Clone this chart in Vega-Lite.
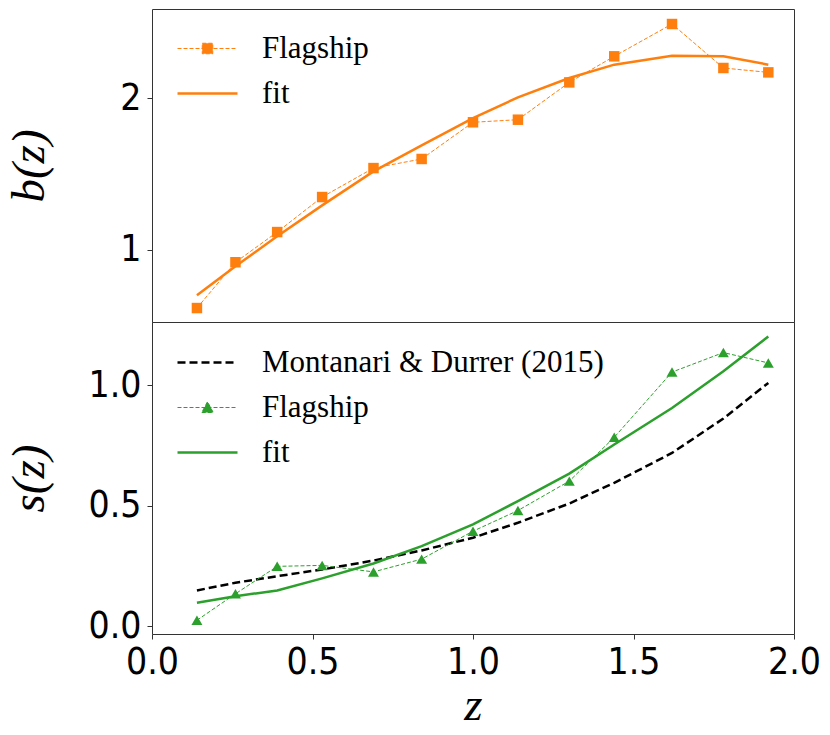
{
  "$schema": "https://vega.github.io/schema/vega-lite/v6.json",
  "background": "white",
  "padding": {"left": 4, "top": 8, "right": 5, "bottom": 5},
  "spacing": 0,
  "bounds": "flush",
  "config": {
    "view": {"stroke": "#333", "strokeWidth": 1},
    "axis": {
      "domain": false,
      "grid": false,
      "labelFont": "DejaVu Sans Condensed",
      "labelFontSize": 37,
      "labelColor": "black",
      "labelFlush": false,
      "labelOverlap": false,
      "labelBound": false,
      "tickColor": "#333",
      "tickSize": 5,
      "titleFont": "Liberation Serif, DejaVu Serif, serif",
      "titleFontStyle": "italic",
      "titleFontWeight": "normal",
      "titleFontSize": 47,
      "titleColor": "black"
    },
    "axisY": {"labelPadding": 6, "minExtent": 63, "maxExtent": 63, "titlePadding": 36},
    "axisX": {"labelPadding": 5, "titlePadding": 2},
    "legend": {
      "title": null,
      "orient": "none",
      "padding": 0,
      "labelFont": "Liberation Serif, DejaVu Serif, serif",
      "labelFontSize": 31,
      "labelColor": "black",
      "labelLimit": 0,
      "symbolSize": 100,
      "labelOffset": 39,
      "rowPadding": 13
    }
  },
  "datasets": {
    "bias": [
      {"z": 0.14, "series": "Flagship", "b": 0.615},
      {"z": 0.26, "series": "Flagship", "b": 0.917},
      {"z": 0.39, "series": "Flagship", "b": 1.116},
      {"z": 0.53, "series": "Flagship", "b": 1.347},
      {"z": 0.69, "series": "Flagship", "b": 1.538},
      {"z": 0.84, "series": "Flagship", "b": 1.598},
      {"z": 1.0, "series": "Flagship", "b": 1.84},
      {"z": 1.14, "series": "Flagship", "b": 1.857},
      {"z": 1.3, "series": "Flagship", "b": 2.103},
      {"z": 1.44, "series": "Flagship", "b": 2.275},
      {"z": 1.62, "series": "Flagship", "b": 2.488},
      {"z": 1.78, "series": "Flagship", "b": 2.198},
      {"z": 1.92, "series": "Flagship", "b": 2.169},
      {"z": 0.14, "series": "fit", "b": 0.699},
      {"z": 0.26, "series": "fit", "b": 0.89},
      {"z": 0.39, "series": "fit", "b": 1.088},
      {"z": 0.53, "series": "fit", "b": 1.292},
      {"z": 0.69, "series": "fit", "b": 1.516},
      {"z": 0.84, "series": "fit", "b": 1.688},
      {"z": 1.0, "series": "fit", "b": 1.868},
      {"z": 1.14, "series": "fit", "b": 2.004},
      {"z": 1.3, "series": "fit", "b": 2.132},
      {"z": 1.44, "series": "fit", "b": 2.22},
      {"z": 1.62, "series": "fit", "b": 2.279},
      {"z": 1.78, "series": "fit", "b": 2.275},
      {"z": 1.92, "series": "fit", "b": 2.22}
    ],
    "magbias": [
      {"z": 0.14, "series": "Montanari & Durrer (2015)", "s": 0.148},
      {"z": 0.26, "series": "Montanari & Durrer (2015)", "s": 0.18},
      {"z": 0.39, "series": "Montanari & Durrer (2015)", "s": 0.207},
      {"z": 0.53, "series": "Montanari & Durrer (2015)", "s": 0.235},
      {"z": 0.69, "series": "Montanari & Durrer (2015)", "s": 0.272},
      {"z": 0.84, "series": "Montanari & Durrer (2015)", "s": 0.314},
      {"z": 1.0, "series": "Montanari & Durrer (2015)", "s": 0.367},
      {"z": 1.14, "series": "Montanari & Durrer (2015)", "s": 0.429},
      {"z": 1.3, "series": "Montanari & Durrer (2015)", "s": 0.509},
      {"z": 1.44, "series": "Montanari & Durrer (2015)", "s": 0.595},
      {"z": 1.62, "series": "Montanari & Durrer (2015)", "s": 0.719},
      {"z": 1.78, "series": "Montanari & Durrer (2015)", "s": 0.862},
      {"z": 1.92, "series": "Montanari & Durrer (2015)", "s": 1.01},
      {"z": 0.14, "series": "Flagship", "s": 0.024},
      {"z": 0.26, "series": "Flagship", "s": 0.134},
      {"z": 0.39, "series": "Flagship", "s": 0.248},
      {"z": 0.53, "series": "Flagship", "s": 0.252},
      {"z": 0.69, "series": "Flagship", "s": 0.225},
      {"z": 0.84, "series": "Flagship", "s": 0.278},
      {"z": 1.0, "series": "Flagship", "s": 0.394},
      {"z": 1.14, "series": "Flagship", "s": 0.48},
      {"z": 1.3, "series": "Flagship", "s": 0.602},
      {"z": 1.44, "series": "Flagship", "s": 0.784},
      {"z": 1.62, "series": "Flagship", "s": 1.055},
      {"z": 1.78, "series": "Flagship", "s": 1.136},
      {"z": 1.92, "series": "Flagship", "s": 1.093},
      {"z": 0.14, "series": "fit", "s": 0.097},
      {"z": 0.26, "series": "fit", "s": 0.124},
      {"z": 0.39, "series": "fit", "s": 0.148},
      {"z": 0.53, "series": "fit", "s": 0.198},
      {"z": 0.69, "series": "fit", "s": 0.26},
      {"z": 0.84, "series": "fit", "s": 0.332},
      {"z": 1.0, "series": "fit", "s": 0.422},
      {"z": 1.14, "series": "fit", "s": 0.519},
      {"z": 1.3, "series": "fit", "s": 0.633},
      {"z": 1.44, "series": "fit", "s": 0.754},
      {"z": 1.62, "series": "fit", "s": 0.906},
      {"z": 1.78, "series": "fit", "s": 1.058},
      {"z": 1.92, "series": "fit", "s": 1.203}
    ]
  },
  "resolve": {"scale": {"color": "independent"}, "legend": {"color": "independent"}},
  "vconcat": [
    {
      "width": 642,
      "height": 313,
      "data": {"name": "bias"},
      "encoding": {
        "x": {"field": "z", "type": "quantitative", "scale": {"domain": [0, 2], "nice": false, "zero": false}, "axis": null},
        "y": {
          "field": "b",
          "type": "quantitative",
          "scale": {"domain": [0.523, 2.587], "nice": false, "zero": false},
          "axis": {"values": [1, 2], "format": "d", "title": "b(z)"}
        },
        "color": {
          "field": "series",
          "type": "nominal",
          "scale": {"domain": ["Flagship", "fit"], "range": ["#ff7f0e", "#ff7f0e"]},
          "legend": {
            "legendX": 40,
            "legendY": 24,
            "encode": {
              "symbols": {
                "update": {
                  "shape": {"signal": "datum.value === 'fit' ? 'M-6,0H6' : 'M-6,0H6M-1.05,-1.05H1.05V1.05H-1.05Z'"},
                  "fill": {"value": "#ff7f0e"},
                  "stroke": {"value": "#ff7f0e"},
                  "strokeWidth": {"signal": "datum.value === 'fit' ? 2.5 : 1"},
                  "strokeDash": {"signal": "datum.value === 'fit' ? [1, 0] : [4, 2]"},
                  "opacity": {"value": 1}
                }
              }
            }
          }
        }
      },
      "layer": [
        {
          "transform": [{"filter": "datum.series === 'Flagship'"}],
          "mark": {"type": "line", "strokeWidth": 1, "strokeDash": [4, 2]}
        },
        {
          "transform": [{"filter": "datum.series === 'Flagship'"}],
          "mark": {"type": "point", "shape": "square", "filled": true, "size": 110, "opacity": 1}
        },
        {
          "transform": [{"filter": "datum.series === 'fit'"}],
          "mark": {"type": "line", "strokeWidth": 2.5}
        }
      ]
    },
    {
      "width": 642,
      "height": 312,
      "data": {"name": "magbias"},
      "encoding": {
        "x": {
          "field": "z",
          "type": "quantitative",
          "scale": {"domain": [0, 2], "nice": false, "zero": false},
          "axis": {"values": [0, 0.5, 1, 1.5, 2], "format": ".1f", "title": "z"}
        },
        "y": {
          "field": "s",
          "type": "quantitative",
          "scale": {"domain": [-0.033, 1.263], "nice": false, "zero": false},
          "axis": {"values": [0, 0.5, 1], "format": ".1f", "title": "s(z)"}
        },
        "color": {
          "field": "series",
          "type": "nominal",
          "scale": {"domain": ["Montanari & Durrer (2015)", "Flagship", "fit"], "range": ["black", "#2ca02c", "#2ca02c"]},
          "legend": {
            "legendX": 40,
            "legendY": 25,
            "encode": {
              "symbols": {
                "update": {
                  "shape": {"signal": "datum.value === 'Flagship' ? 'M-6,0H6M-1.15,1H1.15L0,-1.15Z' : 'M-6,0H6'"},
                  "fill": {"signal": "datum.value === 'Flagship' ? '#2ca02c' : 'transparent'"},
                  "stroke": {"signal": "datum.value === 'Flagship' || datum.value === 'fit' ? '#2ca02c' : 'black'"},
                  "strokeWidth": {"signal": "datum.value === 'Flagship' ? 1 : 2.5"},
                  "strokeDash": {"signal": "datum.value === 'Flagship' ? [4, 2] : datum.value === 'fit' ? [1, 0] : [8, 4]"},
                  "opacity": {"value": 1}
                }
              }
            }
          }
        }
      },
      "layer": [
        {
          "transform": [{"filter": "datum.series === 'Montanari & Durrer (2015)'"}],
          "mark": {"type": "line", "strokeWidth": 2.5, "strokeDash": [8, 4]}
        },
        {
          "transform": [{"filter": "datum.series === 'Flagship'"}],
          "mark": {"type": "line", "strokeWidth": 1, "strokeDash": [4, 2]}
        },
        {
          "transform": [{"filter": "datum.series === 'Flagship'"}],
          "mark": {"type": "point", "shape": "triangle-up", "filled": true, "size": 120, "opacity": 1}
        },
        {
          "transform": [{"filter": "datum.series === 'fit'"}],
          "mark": {"type": "line", "strokeWidth": 2.5}
        }
      ]
    }
  ]
}
